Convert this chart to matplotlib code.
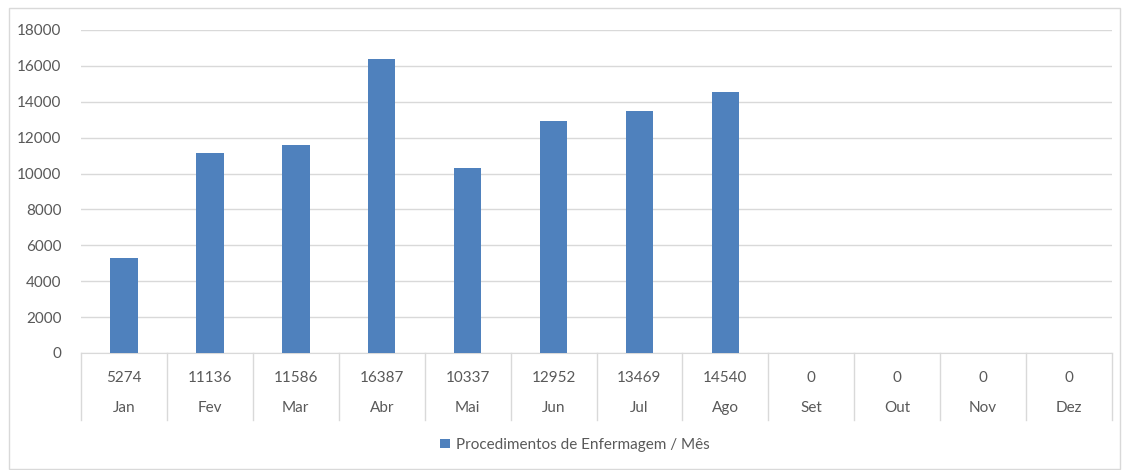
import matplotlib.pyplot as plt
from matplotlib.patches import Rectangle
from matplotlib.transforms import blended_transform_factory

plt.rcParams['font.family'] = ['Lato', 'DejaVu Sans']

# Data
months = ['Jan', 'Fev', 'Mar', 'Abr', 'Mai', 'Jun', 'Jul', 'Ago', 'Set', 'Out', 'Nov', 'Dez']
values = [5274, 11136, 11586, 16387, 10337, 12952, 13469, 14540, 0, 0, 0, 0]
series_name = 'Procedimentos de Enfermagem / Mês'

bar_color = '#4f81bd'
text_color = '#595959'
line_color = '#d9d9d9'
fsize = 11

fig = plt.figure(figsize=(11.26, 4.70), dpi=100)
ax = fig.add_axes([81 / 1126, 1 - 353 / 470, 1031 / 1126, 323 / 470])

x = list(range(len(months)))
ax.bar(x, values, width=0.32, color=bar_color, zorder=3, label=series_name)

ax.set_xlim(-0.5, len(months) - 0.5)
ax.set_ylim(0, 18000)
ax.set_yticks(range(0, 18001, 2000))
ax.tick_params(axis='y', length=0, labelsize=fsize, labelcolor=text_color, pad=14)
ax.tick_params(axis='x', length=0, labelbottom=False)
ax.grid(axis='y', color=line_color, linewidth=1, zorder=0)
for s in ['top', 'right', 'left']:
    ax.spines[s].set_visible(False)
ax.spines['bottom'].set_color(line_color)

# data table below the axis
trans = blended_transform_factory(ax.transData, ax.transAxes)
table_bottom = -0.207
for i in range(len(months) + 1):
    ax.plot([i - 0.5, i - 0.5], [0, table_bottom], color=line_color, linewidth=1,
            transform=trans, clip_on=False)
for i, (m, v) in enumerate(zip(months, values)):
    ax.text(i, -0.077, str(v), transform=trans, ha='center', va='center',
            fontsize=fsize, color=text_color)
    ax.text(i, -0.17, m, transform=trans, ha='center', va='center',
            fontsize=fsize, color=text_color)

leg = fig.legend(loc='center', bbox_to_anchor=(575 / 1126, 1 - 445 / 470), frameon=False,
                 fontsize=fsize, handlelength=0.6, handleheight=0.6, handletextpad=0.4)
for t in leg.get_texts():
    t.set_color(text_color)

# outer chart border
fig.patches.append(Rectangle((9 / 1126, 1 / 470), 1111 / 1126, 461 / 470,
                             transform=fig.transFigure, fill=False,
                             edgecolor=line_color, linewidth=1))

fig.savefig('out.png', dpi=100)
